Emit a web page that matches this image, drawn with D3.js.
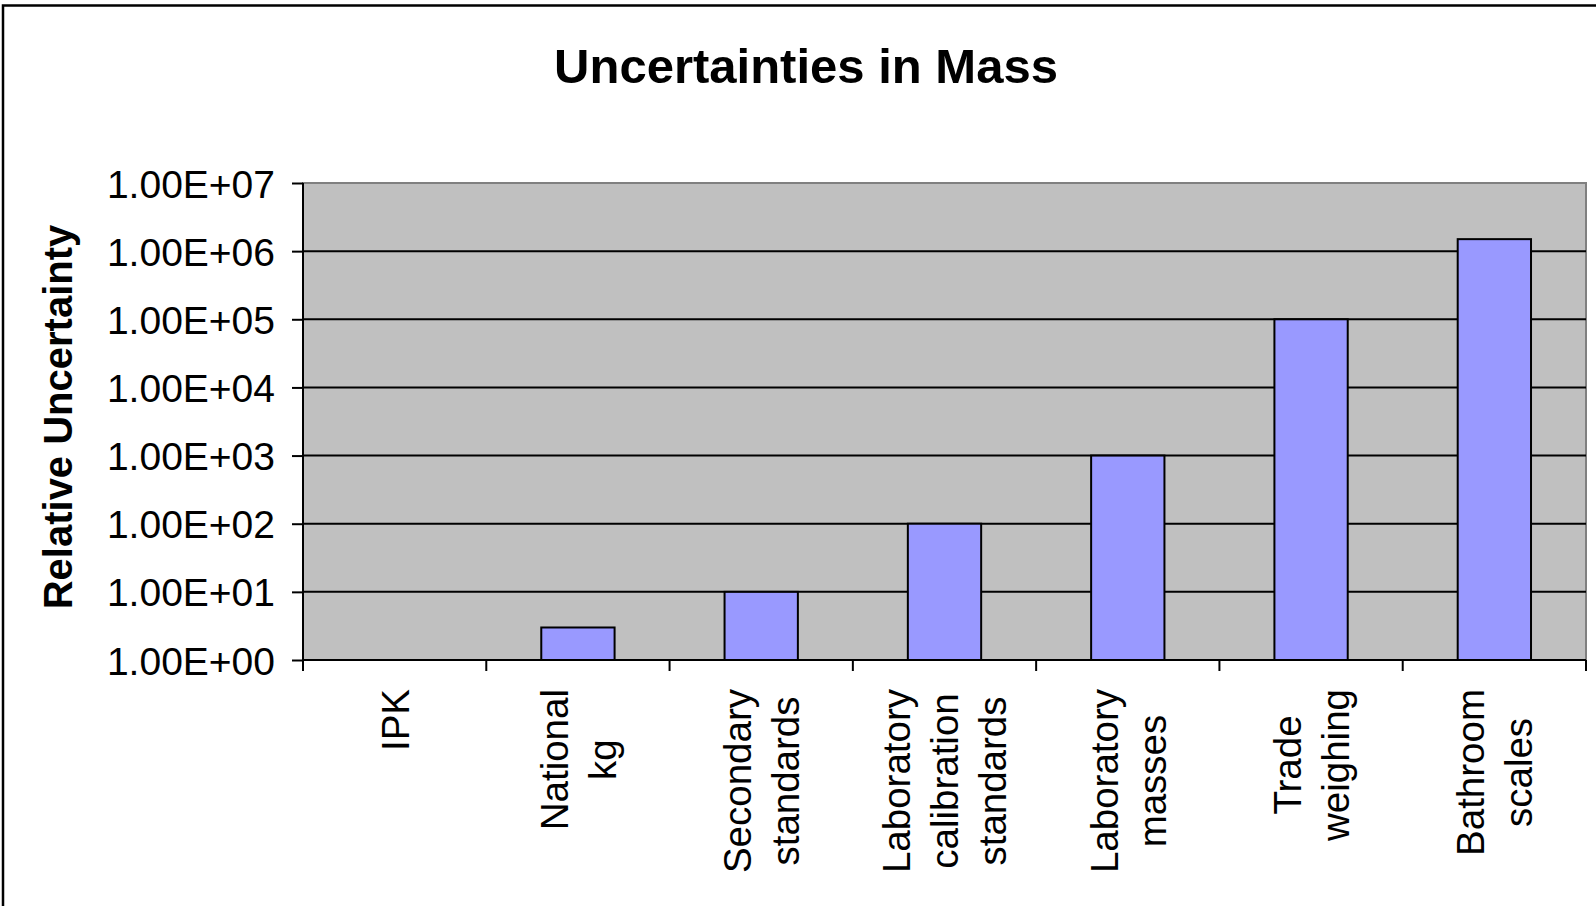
<!DOCTYPE html>
<html>
<head>
<meta charset="utf-8">
<script src="https://cdn.jsdelivr.net/npm/d3@7"></script>
<style>
  html, body { margin: 0; padding: 0; background: #fff; }
  svg { display: block; font-family: "Liberation Sans", Arial, sans-serif; }
</style>
</head>
<body>
<svg id="chart" width="1596" height="906"></svg>
<script>
// Categories (multi-line labels split on "\n") and their relative uncertainties
const categories = [
  "IPK",
  "National\nkg",
  "Secondary\nstandards",
  "Laboratory\ncalibration\nstandards",
  "Laboratory\nmasses",
  "Trade\nweighing",
  "Bathroom\nscales"
];
const uncertainties = [1, 3, 10, 100, 1000, 100000, 1500000];
const tickValues = [1, 10, 100, 1000, 10000, 100000, 1000000, 10000000];
const tickLabels = ["1.00E+00", "1.00E+01", "1.00E+02", "1.00E+03", "1.00E+04", "1.00E+05", "1.00E+06", "1.00E+07"];

const svg = d3.select("#chart");
const W = 1596, H = 906;
const plot = { left: 303, right: 1586, top: 183, bottom: 660 };

// Outer chart frame (extends past the right/bottom edge of the view)
svg.append("rect")
  .attr("x", 3).attr("y", 5.5)
  .attr("width", 1700).attr("height", 1200)
  .attr("fill", "none").attr("stroke", "#000").attr("stroke-width", 2.5);

// Title
svg.append("text")
  .attr("x", 806).attr("y", 83)
  .attr("text-anchor", "middle")
  .attr("font-weight", "bold")
  .attr("font-size", 49)
  .text("Uncertainties in Mass");

const x = d3.scaleBand().domain(categories).range([plot.left, plot.right]).paddingInner(0).paddingOuter(0);
const y = d3.scaleLog().domain([1, 1e7]).range([plot.bottom, plot.top]);

// Plot area background
svg.append("rect")
  .attr("x", plot.left).attr("y", plot.top)
  .attr("width", plot.right - plot.left).attr("height", plot.bottom - plot.top)
  .attr("fill", "#C0C0C0").attr("stroke", "#808080").attr("stroke-width", 2);

// Major gridlines
svg.append("g").selectAll("line")
  .data(tickValues.slice(1, -1))
  .join("line")
  .attr("x1", plot.left).attr("x2", plot.right)
  .attr("y1", d => y(d)).attr("y2", d => y(d))
  .attr("stroke", "#000").attr("stroke-width", 2);

// Bars
const barW = x.bandwidth() * 0.4;
svg.append("g").selectAll("rect")
  .data(categories.map((c, i) => ({ c, v: uncertainties[i] })).filter(d => d.v > 1))
  .join("rect")
  .attr("x", d => x(d.c) + (x.bandwidth() - barW) / 2)
  .attr("y", d => y(d.v))
  .attr("width", barW)
  .attr("height", d => plot.bottom - y(d.v))
  .attr("fill", "#9999FF")
  .attr("stroke", "#000").attr("stroke-width", 2);

// Y axis
const yAxis = d3.axisLeft(y)
  .tickValues(tickValues)
  .tickFormat((d, i) => tickLabels[i])
  .tickSize(11).tickPadding(17);
const gy = svg.append("g").attr("transform", `translate(${plot.left},0)`).call(yAxis);
gy.select(".domain").attr("stroke", "#000").attr("stroke-width", 2).attr("d", `M0,${plot.top}V${plot.bottom}`);
gy.selectAll(".tick line").attr("stroke", "#000").attr("stroke-width", 2);
gy.selectAll(".tick text")
  .attr("font-family", "'Liberation Sans', Arial, sans-serif")
  .attr("font-size", 39).attr("fill", "#000").attr("dy", "0.36em");

// X axis line and ticks at category boundaries
const gx = svg.append("g");
gx.append("line")
  .attr("x1", plot.left).attr("x2", plot.right)
  .attr("y1", plot.bottom).attr("y2", plot.bottom)
  .attr("stroke", "#000").attr("stroke-width", 2);
const bounds = categories.map(c => x(c)).concat([plot.right]);
gx.selectAll("line.tick")
  .data(bounds)
  .join("line")
  .attr("class", "tick")
  .attr("x1", d => d).attr("x2", d => d)
  .attr("y1", plot.bottom).attr("y2", plot.bottom + 11)
  .attr("stroke", "#000").attr("stroke-width", 2);

// Rotated, multi-line category labels
const labelFont = 38.5, lineGap = 48, labelTop = 689;
categories.forEach(c => {
  const lines = c.split("\n");
  const cx = x(c) + x.bandwidth() / 2;
  const g = svg.append("g");
  const texts = lines.map((ln, i) => {
    const lx = cx + (i - (lines.length - 1) / 2) * lineGap + labelFont * 0.36;
    return g.append("text")
      .attr("font-size", labelFont)
      .attr("text-anchor", "middle")
      .attr("data-x", lx)
      .text(ln);
  });
  const maxW = d3.max(texts, t => t.node().getComputedTextLength());
  const ly = labelTop + maxW / 2;
  texts.forEach(t => {
    const lx = +t.attr("data-x");
    t.attr("transform", `translate(${lx},${ly}) rotate(-90)`);
  });
});

// Y axis title
svg.append("text")
  .attr("transform", "translate(72,417) rotate(-90)")
  .attr("text-anchor", "middle")
  .attr("font-weight", "bold")
  .attr("font-size", 40)
  .text("Relative Uncertainty");
</script>
</body>
</html>
